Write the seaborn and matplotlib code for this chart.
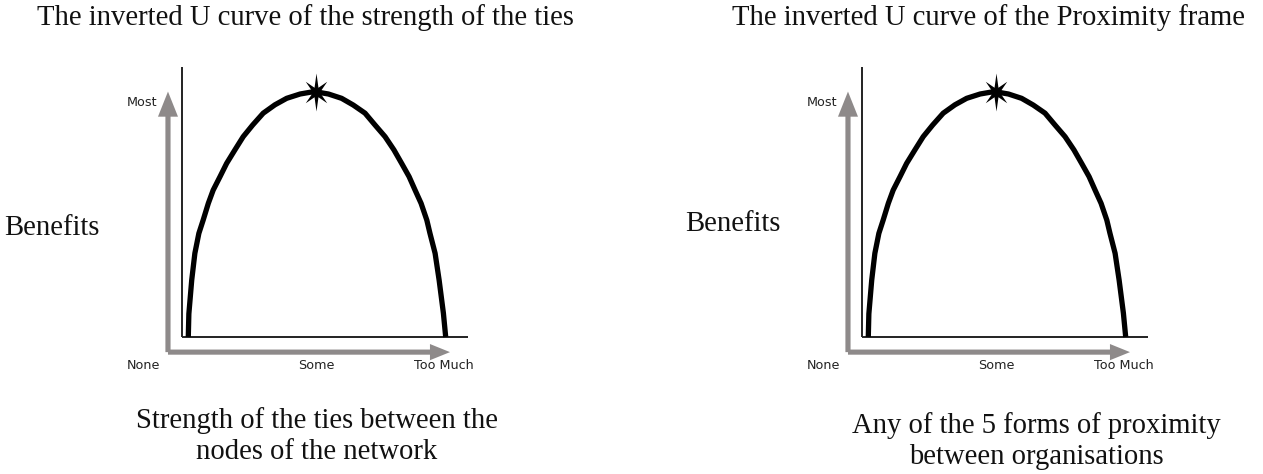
import numpy as np
import pandas as pd
import matplotlib
matplotlib.use("Agg")
import matplotlib.pyplot as plt
import seaborn as sns

# ---- data (x: 0 = axis origin, 100 = end of x axis; y: 0 = base, 100 = top of y axis)
curve_x = [2.2, 2.4, 3.4, 4.5, 5.9, 7.4, 9.2, 10.9, 13.3, 15.6, 18.5, 21.4, 24.7, 28.4, 32.5, 36.6, 41.3, 46.2,
           51.2, 55.8, 59.9, 64.0, 67.5, 71.0, 74.1, 76.8, 79.4, 81.5, 83.6, 85.6, 86.7, 88.5, 89.9, 91.4, 92.2]
curve_y = [0.0, 8.6, 21.1, 31.0, 38.4, 43.3, 49.5, 54.4, 59.4, 64.3, 69.3, 74.2, 78.5, 82.9, 86.0, 88.4, 90.0, 90.9,
           90.0, 88.4, 85.9, 82.9, 78.5, 74.2, 69.3, 64.3, 59.4, 54.4, 49.5, 43.3, 38.4, 31.0, 21.1, 8.8, 0.0]
peak_x = [47.0]
peak_y = [90.9]
x_tick_labels = ["None", "Some", "Too Much"]
x_tick_pos = [-13.5, 46.9, 91.6]
y_top_label = "Most"

titles = ["The inverted U curve of the strength of the ties",
          "The inverted U curve of the Proximity frame"]
y_titles = ["Benefits", "Benefits"]
x_titles = ["Strength of the ties between the\nnodes of the network",
            "Any of the 5 forms of proximity\nbetween organisations"]

sns.set_theme(style="white")
plt.rcParams["font.family"] = ["DejaVu Sans"]

W, H = 1263, 474
fig = plt.figure(figsize=(W / 100, H / 100), dpi=100)
fig.patch.set_facecolor("white")

def fx(px):
    return px / W

def fy(py):
    return 1 - py / H

SERIF = "Liberation Serif"
SERIF_SIZE = 20.6
GRAY = "#8e8a8a"
DARK = "#222222"

# spiky star marker shape (unit coordinates)
star_outer = [1.0, 0.8, 0.6, 0.8, 1.0, 0.8, 0.6, 0.8]
star_verts = []
for k, r in enumerate(star_outer):
    a = np.deg2rad(90 + 45 * k)
    star_verts.append((r * np.cos(a), r * np.sin(a)))
    b = a + np.deg2rad(22.5)
    star_verts.append((0.27 * np.cos(b), 0.27 * np.sin(b)))
star_verts.append(star_verts[0])

df = pd.DataFrame({"x": curve_x, "y": curve_y})
df_peak = pd.DataFrame({"x": peak_x, "y": peak_y})

panel_offsets = [0, 680]
for i, off in enumerate(panel_offsets):
    ax = fig.add_axes([fx(100 + off), fy(400), 400 / W, 350 / H])
    ax.set_xlim((100 - 182) / 2.86, (500 - 182) / 2.86)
    ax.set_ylim((337 - 400) / 2.7, (337 - 50) / 2.7)
    ax.axis("off")

    # gray arrows
    ax.arrow(-4.9, -5.6, 0, 96.5, width=1.8, head_width=7.0, head_length=9.3,
             length_includes_head=True, color=GRAY, lw=0, clip_on=False)
    ax.arrow(-4.9, -5.6, 98.6, 0, width=1.9, head_width=6.0, head_length=7.0,
             length_includes_head=True, color=GRAY, lw=0, clip_on=False)

    # black axes lines
    ax.plot([0, 0], [0, 100], color=DARK, lw=1.4, solid_capstyle="butt")
    ax.plot([0, 100], [0, 0], color=DARK, lw=1.4, solid_capstyle="butt")

    # curve
    sns.lineplot(data=df, x="x", y="y", sort=False, ax=ax, color="black",
                 lw=3.8, solid_capstyle="butt", solid_joinstyle="round")
    sns.scatterplot(data=df_peak, x="x", y="y", ax=ax, marker=star_verts,
                    s=750, color="black", linewidth=0, zorder=5)
    ax.set_xlabel("")
    ax.set_ylabel("")
    ax.axis("off")

    # small labels
    ax.text(-14.0, 87.0, y_top_label, ha="center", va="center", fontsize=9.2,
            color="#222222", family="DejaVu Sans")
    for lab, xp in zip(x_tick_labels, x_tick_pos):
        yy = -10.7 if lab == "Some" else -10.4
        ax.text(xp, yy, lab, ha="center", va="center", fontsize=9.2,
                color="#222222", family="DejaVu Sans")

# serif texts
fig.text(fx(305), fy(18), titles[0], ha="center", va="center",
         family=SERIF, fontsize=SERIF_SIZE, color="#111111")
fig.text(fx(988), fy(18), titles[1], ha="center", va="center",
         family=SERIF, fontsize=SERIF_SIZE, color="#111111")
fig.text(fx(52), fy(228), y_titles[0], ha="center", va="center",
         family=SERIF, fontsize=SERIF_SIZE, color="#111111")
fig.text(fx(733), fy(224), y_titles[1], ha="center", va="center",
         family=SERIF, fontsize=SERIF_SIZE, color="#111111")
fig.text(fx(317), fy(436), x_titles[0], ha="center", va="center",
         family=SERIF, fontsize=SERIF_SIZE, color="#111111", linespacing=1.22)
fig.text(fx(1036), fy(441), x_titles[1], ha="center", va="center",
         family=SERIF, fontsize=SERIF_SIZE, color="#111111", linespacing=1.22)

fig.savefig("out.png", dpi=100, facecolor="white")
